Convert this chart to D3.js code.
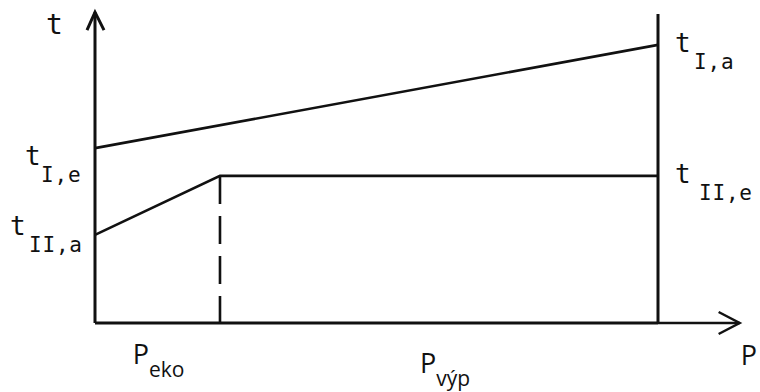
<!DOCTYPE html>
<html><head><meta charset="utf-8">
<script src="https://cdn.jsdelivr.net/npm/d3@7"></script>
<style>html,body{margin:0;padding:0;background:#fff;}svg{display:block;}</style>
</head><body>
<script>
// P axis breakpoints (start, P_eko limit, end of P_výp)
const pBreaks = [0, 22.2, 100];
const pSubLabels = ["eko", "výp"];
// line I: t_I,e at P start -> t_I,a at P end
const seriesIP = [0, 100];
const seriesIT = [56.6, 90.0];
// line II: t_II,a at start -> rises to t_II,e at P_eko, then flat
const seriesIIP = [0, 22.2, 100];
const seriesIIT = [28.5, 47.6, 47.6];
const tLabels = [
  {main: "t", sub: "I,e"},
  {main: "t", sub: "II,a"},
  {main: "t", sub: "I,a"},
  {main: "t", sub: "II,e"}
];

const W = 760, H = 392;
const svg = d3.select("body").append("svg").attr("width", W).attr("height", H);
svg.append("rect").attr("width", W).attr("height", H).attr("fill", "#fff");

const x = d3.scaleLinear().domain([0, 100]).range([95, 658]);
const y = d3.scaleLinear().domain([0, 100]).range([323, 14]);
const ink = "#111";
const mono = "'DejaVu Sans Mono', monospace";
const sans = "'Open Sans', sans-serif";

const line = d3.line().x(d => x(d[0])).y(d => y(d[1]));

// y axis with arrow
svg.append("path").attr("d", line([[0, 0], [0, 100.6]]))
  .attr("stroke", ink).attr("stroke-width", 3).attr("fill", "none");
svg.append("path").attr("d", `M${x(0) - 8},${y(100.6) + 18}L${x(0)},${y(100.6)}L${x(0) + 9},${y(100.6) + 18}`)
  .attr("stroke", ink).attr("stroke-width", 3).attr("fill", "none").attr("stroke-linejoin", "miter");
// x axis with arrow
svg.append("path").attr("d", line([[0, 0], [100, 0]]))
  .attr("stroke", ink).attr("stroke-width", 3).attr("fill", "none");
svg.append("path").attr("d", line([[100, 0], [114.5, 0]]))
  .attr("stroke", ink).attr("stroke-width", 2.5).attr("fill", "none");
svg.append("path").attr("d", `M${x(114.5) - 21},${y(0) - 11}L${x(114.5)},${y(0)}L${x(114.5) - 21},${y(0) + 11}`)
  .attr("stroke", ink).attr("stroke-width", 2.5).attr("fill", "none");
// right vertical boundary
svg.append("path").attr("d", line([[100, 0], [100, 100]]))
  .attr("stroke", ink).attr("stroke-width", 3).attr("fill", "none");

// series lines
svg.append("path").attr("d", line(seriesIP.map((p, i) => [p, seriesIT[i]])))
  .attr("stroke", ink).attr("stroke-width", 2.6).attr("fill", "none");
svg.append("path").attr("d", line(seriesIIP.map((p, i) => [p, seriesIIT[i]])))
  .attr("stroke", ink).attr("stroke-width", 2.6).attr("fill", "none");
// dashed line at P_eko
svg.append("path").attr("d", line([[pBreaks[1], seriesIIT[1]], [pBreaks[1], 0]]))
  .attr("stroke", ink).attr("stroke-width", 2.6).attr("fill", "none")
  .attr("stroke-dasharray", "28,12");

// axis title t
svg.append("text").attr("x", x(0) - 49).attr("y", y(100) + 20)
  .attr("font-family", mono).attr("font-size", 28).attr("fill", ink).text("t");

// t labels anchored to series end points
const anchors = [
  [x(seriesIP[0]), y(seriesIT[0]), -70, 17, 16],
  [x(seriesIIP[0]), y(seriesIIT[0]), -85, 0, 19],
  [x(seriesIP[1]), y(seriesIT[1]), 17, 7, 19],
  [x(seriesIIP[2]), y(seriesIIT[2]), 17, 7, 24]
];
tLabels.forEach((l, i) => {
  const [ax, ay, dx, dy, sdx] = anchors[i];
  svg.append("text").attr("x", ax + dx).attr("y", ay + dy)
    .attr("font-family", mono).attr("font-size", 26).attr("fill", ink).text(l.main);
  svg.append("text").attr("x", ax + dx + sdx).attr("y", ay + dy + 17)
    .attr("font-family", mono).attr("font-size", 21).attr("letter-spacing", 0.8).attr("fill", ink).text(l.sub);
});

// P interval labels, centred in each interval
pSubLabels.forEach((s, i) => {
  const cx = (x(pBreaks[i]) + x(pBreaks[i + 1])) / 2 + (i === 0 ? 1 : 6);
  const by = i === 0 ? 364 : 373;
  const t = svg.append("text").attr("x", cx).attr("y", by).attr("text-anchor", "middle")
    .attr("font-family", sans).attr("font-size", 27).attr("fill", ink);
  t.append("tspan").text("P");
  t.append("tspan").attr("dy", 13).attr("font-size", 21).text(s);
});
// axis title P
svg.append("text").attr("x", x(114.5) + 1).attr("y", 365)
  .attr("font-family", sans).attr("font-size", 27).attr("fill", ink).text("P");
</script>
</body></html>
